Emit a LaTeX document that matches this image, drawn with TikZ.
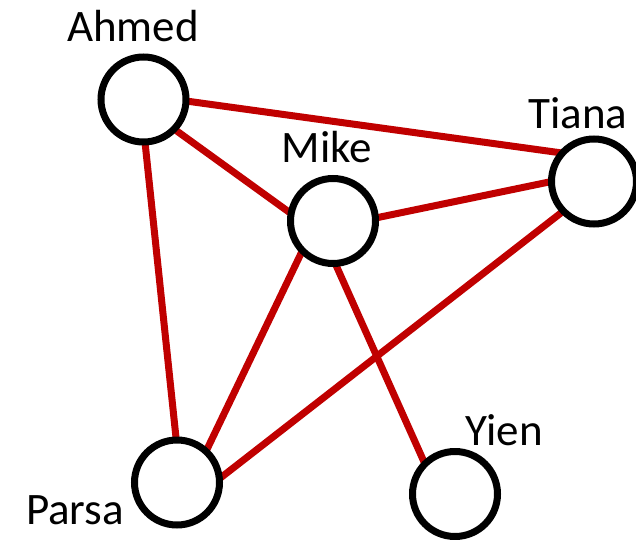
\documentclass[tikz,border=0pt]{standalone}
\usepackage{fontspec}
\setmainfont{Carlito}
\pgfdeclarelayer{ties}
\pgfsetlayers{ties,main}
\begin{document}
\begin{tikzpicture}[x=1pt,y=1pt,
  person/.style={circle,draw=black,line width=7pt,fill=white,minimum size=85pt,inner sep=0pt,outer sep=0pt},
  tie/.style={draw=linkred,line width=7pt},
  personname/.style={anchor=base,font=\fontsize{45}{54}\selectfont,inner sep=0pt}]
\definecolor{linkred}{HTML}{C00000}
\useasboundingbox (0,0) rectangle (636,539);
% people
\node[person] (ahmed) at (143.5,439.5) {};
\node[person] (mike)  at (333,318) {};
\node[person] (tiana) at (594,357.5) {};
\node[person] (parsa) at (177,56.5) {};
\node[person] (yien)  at (455,45) {};
% names
\node[personname] (ahmedname) at (133,497) {Ahmed};
\node[personname] (mikename)  at (327,376) {Mike};
\node[personname] (tiananame) at (578,410) {Tiana};
\node[personname] (parsaname) at (75,15) {Parsa};
\node[personname] (yienname)  at (504,94) {Yien};
% ties, kept behind the circles
\begin{pgfonlayer}{ties}
\draw[tie] (ahmed.-2) -- (tiana.138);
\draw[tie] (ahmed.-44) -- (mike.170);
\draw[tie] (ahmed.-88) -- (parsa.91);
\draw[tie] (mike.4) -- (tiana.180);
\draw[tie] (mike.224) -- (parsa.47);
\draw[tie] (mike.-87) -- (yien.135);
\draw[tie] (tiana.224.5) -- (parsa.5);
\end{pgfonlayer}
\end{tikzpicture}
\end{document}
